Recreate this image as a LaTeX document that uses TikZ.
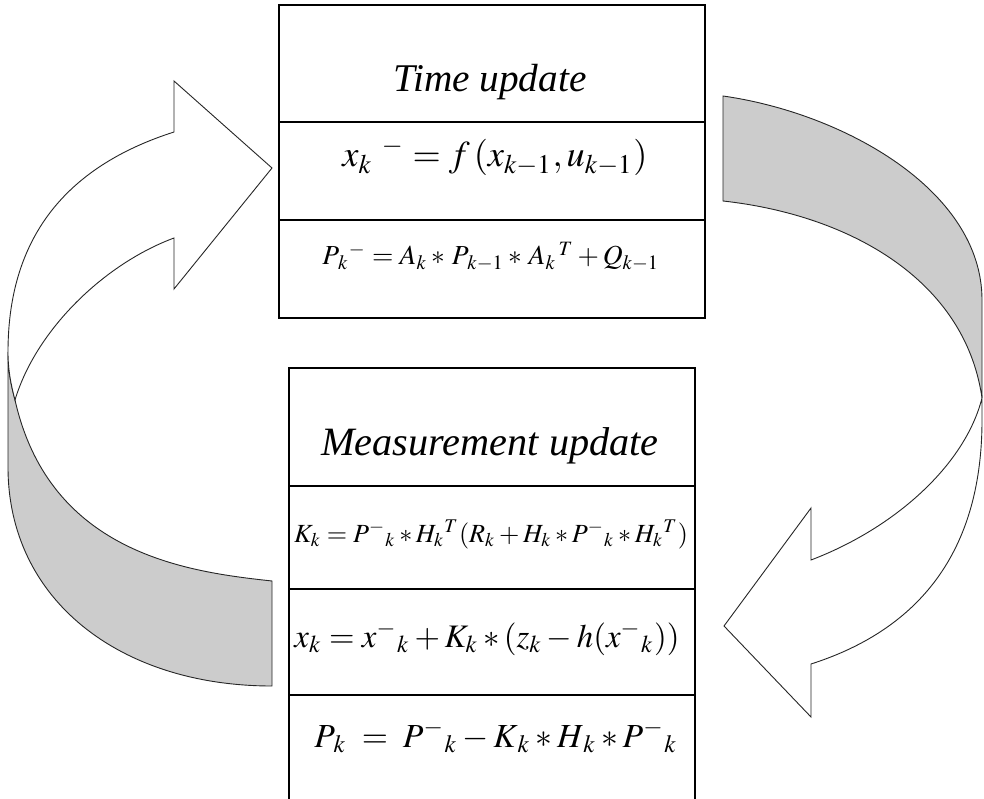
\documentclass[tikz,border=0pt]{standalone}
\usepackage{mathptmx}
\usepackage[no-math]{fontspec}
\setmainfont{Liberation Serif}
\usepackage{graphicx}
\usetikzlibrary{positioning}

\newcommand{\fitw}[2]{\resizebox{#1}{!}{#2}}

\begin{document}
\begin{tikzpicture}[
  x=1pt, y=-1pt,
  row/.style={draw, line width=1.2pt, inner sep=0pt, outer sep=0pt},
  toprow/.style={row, minimum width=426pt},
  botrow/.style={row, minimum width=406pt},
  band/.style={fill=gray!40, draw=black!85, line width=0.9pt, line join=miter},
  front/.style={fill=white, draw=black!85, line width=0.9pt, line join=miter},
  lbl/.style={anchor=base, inner sep=0pt}
]
\useasboundingbox (0,0) rectangle (984,799);
\clip (0,0) rectangle (984,799);

% left arrow: back face, then front with head
\draw[band] (8,352) -- (8,467) .. controls (8,600) and (120,686) .. (272,686)
  -- (272,581) .. controls (190,572) and (50,555) .. (15,400)
  .. controls (11,385) and (8,370) .. (8,352) -- cycle;
\draw[front] (8,352) .. controls (8,230) and (74,164) .. (174,132)
  -- (174,81) -- (272,168) -- (174,289) -- (174,238)
  .. controls (104,264) and (36,330) .. (15,400)
  .. controls (11,385) and (8,370) .. (8,352) -- cycle;

% right arrow
\draw[band] (723,96) .. controls (843,113) and (982,190) .. (982,300)
  -- (982,398) .. controls (965,280) and (850,215) .. (723,201) -- cycle;
\draw[front] (982,398) .. controls (965,465) and (895,528) .. (811,560)
  -- (811,508) -- (724,626) -- (811,717) -- (811,664)
  .. controls (911,632) and (982,560) .. (982,420) -- cycle;

% time update table
\node[toprow, minimum height=117pt] (timehead) at (492,63.5) {};
\node[toprow, minimum height=98pt, below=0pt of timehead] (timestate) {};
\node[toprow, minimum height=98pt, below=0pt of timestate] (timecov) {};

\node[lbl] (timetitle) at (490,92) {\fitw{193pt}{\itshape Time update}};
\node[lbl] (predx) at (495,167) {\fitw{305pt}{$x_{k}{}^{\;\,-} = f\,(x_{k-1},u_{k-1})$}};
\node[lbl] (predp) at (491,265) {\fitw{337pt}{$P_{\,k}{}^{-} = A_{k} *\, P_{\,k-1} *\, A_{k}{}^{\,T} + Q_{k-1}$}};

% measurement update table
\node[botrow, minimum height=118pt] (meashead) at (492,427) {};
\node[botrow, minimum height=103pt, below=0pt of meashead] (measgain) {};
\node[botrow, minimum height=106pt, below=0pt of measgain] (measstate) {};
\node[botrow, minimum height=114pt, below=0pt of measstate] (meascov) {};

\node[lbl] (meastitle) at (490,455) {\fitw{337pt}{\itshape Measurement update}};
\node[lbl] (gain) at (491,542) {\fitw{394pt}{$K_{k} = P^{-}{}_{k} * H_{k}{}^{T}(R_{k} + H_{k} * P^{-}{}_{k} * H_{k}{}^{T})$}};
\node[lbl] (corrx) at (487,647) {\fitw{385pt}{$x_{k} = x^{-}{}_{k} + K_{k} * (z_{k} - h(x^{-}{}_{k}))$}};
\node[lbl] (corrp) at (496,747) {\fitw{363pt}{$P_{\,k} \;=\; P^{-}{}_{k} - K_{\,k} * H_{\,k} * P^{-}{}_{k}$}};
\end{tikzpicture}
\end{document}
